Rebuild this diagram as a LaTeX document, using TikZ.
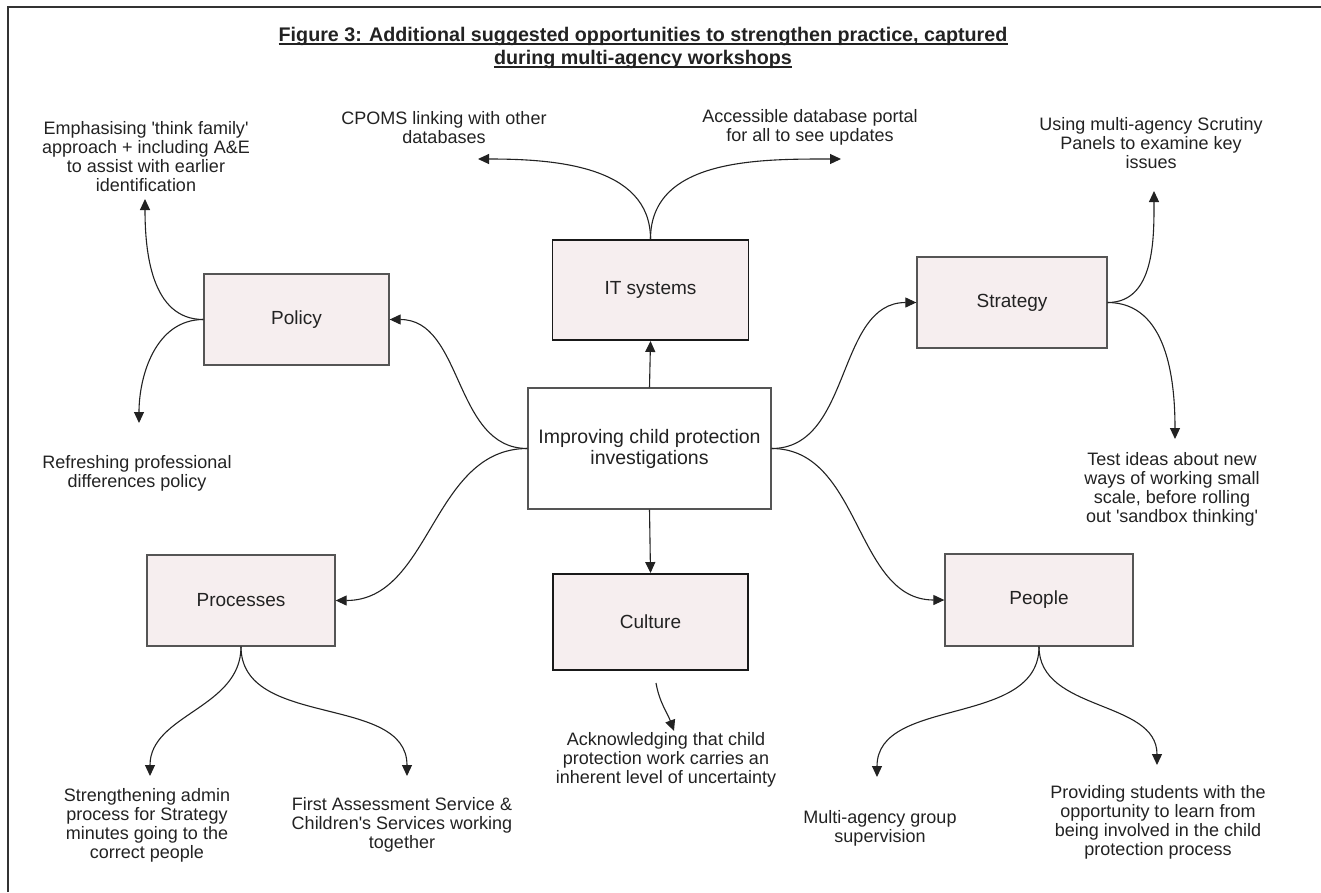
\documentclass[tikz,border=0pt]{standalone}
\usepackage{fontspec}
\setmainfont{Liberation Sans}
\usetikzlibrary{arrows.meta}

\definecolor{boxpink}{RGB}{246,238,239}
\definecolor{ink}{RGB}{34,34,34}
\definecolor{rimgray}{RGB}{85,85,85}
\newcommand\sq{\textquotesingle}

\tikzset{
  themebox/.style={draw=rimgray, line width=1.3pt, fill=boxpink, inner sep=0pt,
    font=\fontsize{19}{21}\selectfont, text=ink},
  bold rim/.style={draw=black!90, line width=1.9pt},
  hubbox/.style={draw=rimgray, line width=1.3pt, fill=white, align=center,
    minimum width=243pt, minimum height=121pt, inner sep=0pt,
    font=\fontsize{19.5}{21}\selectfont, text=ink},
  note/.style={align=center, inner sep=0pt, font=\fontsize{18}{19}\selectfont, text=ink},
  heading/.style={inner sep=0pt, text=ink, font=\bfseries\fontsize{19.7}{20}\selectfont},
  rule/.style={line width=1.3pt, draw=ink},
  link/.style={-{Triangle[length=11pt,width=10pt]}, line width=1.1pt, draw=ink}
}

\begin{document}
\begin{tikzpicture}[x=1pt,y=-1pt]
\useasboundingbox (0,0) rectangle (1321,892);
% frame
\draw[line width=1.6pt, draw=black!80] (8,892) -- (8,7) -- (1321,7);

% title
\node[heading, anchor=base] (title) at (643,41)
  {Figure 3: Additional suggested opportunities to strengthen practice, captured\ };
\node[heading, anchor=base] (titleEnd) at (643,64) {during multi-agency workshops};
\draw[rule] ([yshift=-3pt]title.base west) -- ([yshift=-3pt]title.base east);
\draw[rule] ([yshift=-3pt]titleEnd.base west) -- ([yshift=-3pt]titleEnd.base east);

% centre and themes
\node[hubbox] (hub) at (649.5,448.5) {Improving child protection\\investigations};
\node[themebox, bold rim, minimum width=196pt, minimum height=100pt] (it) at (650.5,290) {IT systems};
\node[themebox, bold rim, minimum width=195pt, minimum height=96pt] (culture) at (650.5,622) {Culture};
\node[themebox, minimum width=185pt, minimum height=91pt] (policy) at (296.5,319.5) {Policy};
\node[themebox, minimum width=190pt, minimum height=91pt] (strategy) at (1012,302.5) {Strategy};
\node[themebox, minimum width=188pt, minimum height=91pt] (processes) at (241,600.5) {Processes};
\node[themebox, minimum width=188pt, minimum height=92pt] (people) at (1039,600) {People};

% suggestions
\node[note] (cpoms) at (444,128) {CPOMS linking with other\\databases};
\node[note] (portal) at (810,127) {Accessible database portal\\for all to see updates};
\node[note] (family) at (146,157) {Emphasising \sq think family\sq\\approach + including A\&E\\to assist with earlier\\identification};
\node[note] (differences) at (137,473) {Refreshing professional\\differences policy};
\node[note] (scrutiny) at (1151,143) {Using multi-agency Scrutiny\\Panels to examine key\\issues};
\node[note] (sandbox) at (1172,489) {Test ideas about new\\ways of working small\\scale, before rolling\\out \sq sandbox thinking\sq};
\node[note] (admin) at (147,825) {Strengthening admin\\process for Strategy\\minutes going to the\\correct people};
\node[note] (fas) at (402,825) {First Assessment Service \&\\Children\sq s Services working\\together};
\node[note] (uncertainty) at (666,760) {Acknowledging that child\\protection work carries an\\inherent level of uncertainty};
\node[note] (group) at (880,828) {Multi-agency group\\supervision};
\node[note] (students) at (1158,822) {Providing students with the\\opportunity to learn from\\being involved in the child\\protection process};

% arrow ends
\coordinate (cpomsTip) at (478,159);
\coordinate (portalTip) at (841,159);
\coordinate (familyTip) at (145,199);
\coordinate (differencesTip) at (139,423);
\coordinate (scrutinyTip) at (1154,191);
\coordinate (sandboxTip) at (1175,439);
\coordinate (adminTip) at (150,776);
\coordinate (fasTip) at (407,776);
\coordinate (groupTip) at (877,777);
\coordinate (studentsTip) at (1157,765);
\coordinate (cultureFoot) at (656,683);
\coordinate (uncertaintyTip) at (674,731);

% centre to themes
\draw[link] (hub.north) -- (it.south);
\draw[link] (hub.south) -- (culture.north);
\draw[link] (hub.west) to[out=180,in=0] (policy.east);
\draw[link] (hub.west) to[out=180,in=0] (processes.east);
\draw[link] (hub.east) to[out=0,in=180] (strategy.west);
\draw[link] (hub.east) to[out=0,in=180] (people.west);

% themes to suggestions
\draw[link] (it.north) to[out=90,in=0] (cpomsTip);
\draw[link] (it.north) to[out=90,in=180] (portalTip);
\draw[link] (policy.west) to[out=180,in=-90] (familyTip);
\draw[link] (policy.west) to[out=180,in=90] (differencesTip);
\draw[link] (strategy.east) to[out=0,in=-90] (scrutinyTip);
\draw[link] (strategy.east) to[out=0,in=90] (sandboxTip);
\draw[link] (processes.south) to[out=-90,in=90] (adminTip);
\draw[link] (processes.south) to[out=-90,in=90] (fasTip);
\draw[link] (people.south) to[out=-90,in=90] (groupTip);
\draw[link] (people.south) to[out=-90,in=90] (studentsTip);
\draw[link] (cultureFoot) to[out=-80,in=110] (uncertaintyTip);
\end{tikzpicture}
\end{document}
